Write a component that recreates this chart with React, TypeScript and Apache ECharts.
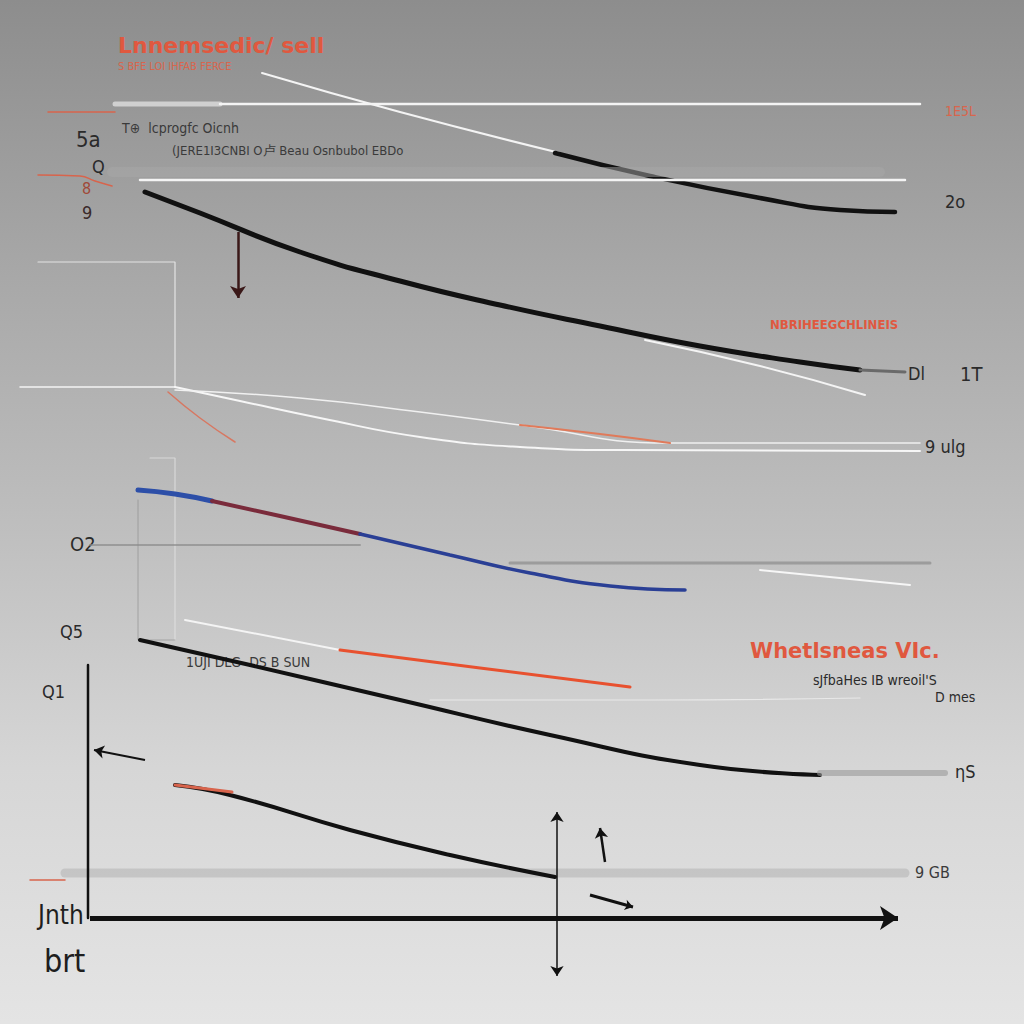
import React, { useEffect, useRef } from "react";
import * as echarts from "echarts";

// All series are in the picture's own 0..1024 coordinate space (y grows downward).
const topWhite = [[220, 104], [920, 104]];
const topRuler = [[115, 104], [220, 104]];
const topRedTail = [[48, 112], [115, 112]];
const diagWhite = [[262, 73], [400, 112], [560, 153]];
const upperBlack = [[555, 153], [650, 176], [760, 198], [840, 210], [895, 212]];
const secondWhite = [[140, 180], [905, 180]];
const secondRuler = [[112, 172], [880, 172]];
const secondRedTail = [[38, 175], [80, 176], [95, 181], [112, 186]];
const mainBlack = [[145, 192], [200, 213], [300, 252], [400, 281], [500, 305], [600, 326], [700, 346], [800, 362], [860, 370]];
const mainGrayTail = [[860, 370], [905, 372]];
const rightWhite = [[645, 340], [760, 366], [865, 395]];
const leftWhiteFlat = [[20, 387], [175, 387]];
const whiteCurveA = [[175, 387], [240, 401], [320, 418], [420, 437], [520, 447], [620, 450], [920, 451]];
const whiteCurveB = [[175, 390], [300, 398], [420, 412], [520, 425], [670, 443], [920, 443]];
const orangeCurve = [[520, 425], [600, 434], [670, 443]];
const orangeDiag = [[168, 392], [200, 418], [235, 442]];
const blueLine = [[138, 490], [175, 494], [212, 501]];
const redBlueLine = [[212, 501], [280, 516], [360, 534]];
const blueTail = [[360, 534], [450, 555], [530, 573], [610, 586], [685, 590]];
const grayRuleA = [[90, 545], [360, 545]];
const grayRuleB = [[510, 563], [930, 563]];
const whiteShortA = [[760, 570], [910, 585]];
const lowerWhite = [[185, 620], [340, 650]];
const lowerRed = [[340, 650], [480, 668], [630, 687]];
const lowerBlack = [[140, 640], [250, 665], [400, 700], [550, 735], [700, 765], [820, 775]];
const lowerRuler = [[820, 773], [945, 773]];
const midWhite = [[430, 700], [650, 700], [860, 698]];
const bottomBlack = [[175, 785], [230, 795], [350, 830], [450, 855], [555, 877]];
const bottomRedStub = [[175, 785], [232, 792]];
const bottomRuler = [[65, 873], [905, 873]];
const bottomRedTail = [[30, 880], [65, 880]];
const frameA = [[38, 262], [175, 262], [175, 387]];
const frameB = [[150, 458], [175, 458], [175, 640]];
const frameC = [[138, 500], [138, 640], [175, 640]];
const yAxisLeft = [[88, 665], [88, 918]];

// Arrows: [from, to]
const arrowMain = [[90, 918], [898, 918]];
const arrowUp = [[557, 880], [557, 812]];
const arrowDown = [[557, 880], [557, 976]];
const arrowRedDown = [[238, 232], [238, 298]];
const arrowLeftSmall = [[145, 760], [94, 750]];
const arrowSmallUp = [[605, 862], [600, 828]];
const arrowSmallDiag = [[590, 895], [633, 907]];

const texts = [
  { t: "Lnnemsedic/ sell", x: 118, y: 34, s: 22, c: "#e0583f", w: "bold", f: "DejaVu Sans" },
  { t: "S BFE LOI IHFAB FERCE", x: 118, y: 61, s: 11, c: "#d9654d", w: "normal", f: "DejaVu Sans Condensed" },
  { t: "5a", x: 76, y: 128, s: 22, c: "#2a2a2a", w: "normal", f: "DejaVu Sans Condensed" },
  { t: "Q", x: 92, y: 157, s: 18, c: "#2a2a2a", w: "normal", f: "DejaVu Sans Condensed" },
  { t: "8", x: 82, y: 180, s: 16, c: "#a04838", w: "normal", f: "DejaVu Sans Condensed" },
  { t: "9", x: 82, y: 203, s: 18, c: "#3a2a2a", w: "normal", f: "DejaVu Sans Condensed" },
  { t: "T⊕  lcprogfc Oicnh", x: 122, y: 121, s: 14, c: "#3a3a3a", w: "normal", f: "DejaVu Sans Condensed" },
  { t: "(JERE1I3CNBI O卢 Beau Osnbubol EBDo", x: 172, y: 144, s: 13, c: "#3a3a3a", w: "normal", f: "DejaVu Sans Condensed" },
  { t: "1E5L", x: 945, y: 104, s: 14, c: "#d9654d", w: "normal", f: "DejaVu Sans Condensed" },
  { t: "2o", x: 945, y: 192, s: 18, c: "#2a2a2a", w: "normal", f: "DejaVu Sans Condensed" },
  { t: "NBRIHEEGCHLINEIS", x: 770, y: 318, s: 13, c: "#e0583f", w: "bold", f: "DejaVu Sans Condensed" },
  { t: "Dl", x: 908, y: 364, s: 18, c: "#2a2a2a", w: "normal", f: "DejaVu Sans Condensed" },
  { t: "1T", x: 960, y: 364, s: 20, c: "#2a2a2a", w: "normal", f: "DejaVu Sans Condensed" },
  { t: "9 ulg", x: 925, y: 437, s: 18, c: "#2a2a2a", w: "normal", f: "DejaVu Sans Condensed" },
  { t: "O2", x: 70, y: 534, s: 20, c: "#2a2a2a", w: "normal", f: "DejaVu Sans Condensed" },
  { t: "Q5", x: 60, y: 622, s: 18, c: "#2a2a2a", w: "normal", f: "DejaVu Sans Condensed" },
  { t: "Q1", x: 42, y: 682, s: 18, c: "#2a2a2a", w: "normal", f: "DejaVu Sans Condensed" },
  { t: "1UJI DLG  DS B SUN", x: 186, y: 655, s: 14, c: "#3a3a3a", w: "normal", f: "DejaVu Sans Condensed" },
  { t: "Whetlsneas VIc.", x: 750, y: 640, s: 21, c: "#e0583f", w: "bold", f: "DejaVu Sans" },
  { t: "sJfbaHes IB wreoil'S", x: 813, y: 673, s: 14, c: "#2a2a2a", w: "normal", f: "DejaVu Sans Condensed" },
  { t: "D mes", x: 935, y: 690, s: 14, c: "#2a2a2a", w: "normal", f: "DejaVu Sans Condensed" },
  { t: "ηS", x: 955, y: 762, s: 18, c: "#2a2a2a", w: "normal", f: "DejaVu Sans Condensed" },
  { t: "9 GB", x: 915, y: 864, s: 16, c: "#3a3a3a", w: "normal", f: "DejaVu Sans Condensed" },
  { t: "Jnth", x: 38, y: 902, s: 26, c: "#1e1e1e", w: "normal", f: "DejaVu Sans Condensed" },
  { t: "brt", x: 44, y: 945, s: 32, c: "#1e1e1e", w: "normal", f: "DejaVu Sans Condensed" },
];

function lineSeries(data: number[][], color: string, width: number, smooth = true, opacity = 1) {
  return {
    type: "line",
    data,
    smooth,
    symbol: "none",
    silent: true,
    lineStyle: { color, width, opacity, cap: "round" },
  };
}

function arrowSeries(pair: number[][], color: string, width: number, size: number) {
  return {
    type: "line",
    data: [],
    symbol: "none",
    silent: true,
    markLine: {
      silent: true,
      symbol: ["none", "arrow"],
      symbolSize: size,
      label: { show: false },
      lineStyle: { color, width, type: "solid" },
      data: [[{ coord: pair[0] }, { coord: pair[1] }]],
    },
  };
}

export default function App() {
  const ref = useRef<HTMLDivElement>(null);
  useEffect(() => {
    if (!ref.current) return;
    const chart = echarts.init(ref.current, undefined, { renderer: "svg" });
    const series: any[] = [
      lineSeries(frameA, "#f2f2f2", 1.2, false, 0.8),
      lineSeries(frameB, "#e6e6e6", 1.2, false, 0.7),
      lineSeries(frameC, "#8a8a8a", 1, false, 0.6),
      lineSeries(topRedTail, "#d8644c", 1.5, false),
      lineSeries(topRuler, "#e8e8e8", 5, false, 0.7),
      lineSeries(topWhite, "#f4f4f4", 2.5, false),
      lineSeries(diagWhite, "#f4f4f4", 2, true),
      lineSeries(upperBlack, "#111111", 4.5, true),
      lineSeries(secondRuler, "#a8a8a8", 10, false, 0.5),
      lineSeries(secondWhite, "#f4f4f4", 2.5, false),
      lineSeries(secondRedTail, "#d8644c", 1.5, true),
      lineSeries(mainBlack, "#111111", 5, true),
      lineSeries(mainGrayTail, "#6a6a6a", 3, false),
      lineSeries(rightWhite, "#f4f4f4", 2, true),
      lineSeries(leftWhiteFlat, "#f4f4f4", 1.5, false),
      lineSeries(whiteCurveA, "#f6f6f6", 2, true),
      lineSeries(whiteCurveB, "#f0f0f0", 1.5, true),
      lineSeries(orangeCurve, "#e07a5a", 2, true),
      lineSeries(orangeDiag, "#e0684c", 1.5, true, 0.8),
      lineSeries(grayRuleA, "#8c8c8c", 2, false, 0.7),
      lineSeries(grayRuleB, "#8c8c8c", 3, false, 0.7),
      lineSeries(whiteShortA, "#f6f6f6", 2, false),
      lineSeries(blueLine, "#2d4fa8", 5, true),
      lineSeries(redBlueLine, "#7a2b3b", 4, true),
      lineSeries(blueTail, "#2a3f95", 3.5, true),
      lineSeries(midWhite, "#f4f4f4", 1.2, true, 0.7),
      lineSeries(lowerWhite, "#f4f4f4", 2, false),
      lineSeries(lowerRed, "#e8512f", 3, true),
      lineSeries(lowerBlack, "#111111", 4, true),
      lineSeries(lowerRuler, "#9a9a9a", 6, false, 0.6),
      lineSeries(bottomRuler, "#a8a8a8", 9, false, 0.45),
      lineSeries(bottomRedTail, "#d8644c", 1.5, false),
      lineSeries(bottomBlack, "#111111", 4, true),
      lineSeries(bottomRedStub, "#d8644c", 3, false),
      lineSeries(yAxisLeft, "#111111", 2.5, false),
      arrowSeries(arrowMain, "#111111", 5, 18),
      arrowSeries(arrowUp, "#111111", 1.5, 10),
      arrowSeries(arrowDown, "#111111", 1.5, 10),
      arrowSeries(arrowRedDown, "#3a1818", 2.5, 12),
      arrowSeries(arrowLeftSmall, "#111111", 2, 10),
      arrowSeries(arrowSmallUp, "#111111", 2.5, 10),
      arrowSeries(arrowSmallDiag, "#111111", 3, 8),
    ];
    chart.setOption({
      animation: false,
      backgroundColor: "transparent",
      grid: { left: 0, right: 0, top: 0, bottom: 0 },
      xAxis: { type: "value", min: 0, max: 1024, show: false },
      yAxis: { type: "value", min: 0, max: 1024, inverse: true, show: false },
      series,
      graphic: texts.map((d) => ({
        type: "text",
        x: d.x,
        y: d.y,
        silent: true,
        style: {
          text: d.t,
          fill: d.c,
          fontSize: d.s,
          fontWeight: d.w,
          fontFamily: d.f + ", sans-serif",
        },
      })),
    });
    return () => chart.dispose();
  }, []);
  return (
    <div
      ref={ref}
      style={{
        position: "fixed",
        left: 0,
        top: 0,
        width: 1024,
        height: 1024,
        background: "linear-gradient(180deg, #8d8d8d 0%, #a6a6a6 25%, #bdbdbd 50%, #d6d6d6 75%, #e4e4e4 100%)",
      }}
    />
  );
}
